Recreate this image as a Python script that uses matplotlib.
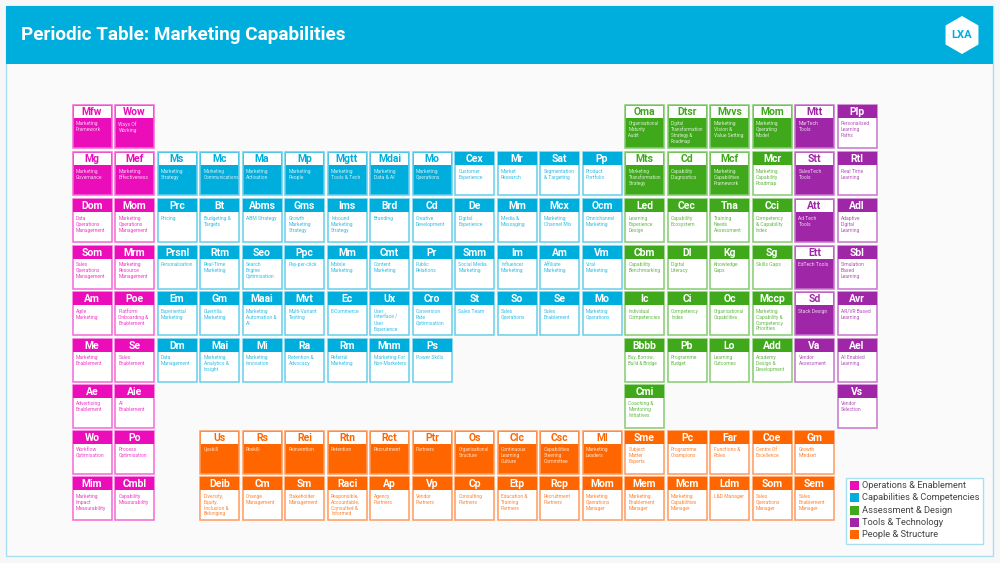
import matplotlib
matplotlib.use("Agg")
import matplotlib.pyplot as plt
from matplotlib.patches import Rectangle, RegularPolygon

plt.rcParams['font.family'] = ['Roboto', 'DejaVu Sans']

# one list per row of the table, "" is an empty slot
symbols = [
    ["Mfw", "Wow", "", "", "", "", "", "", "", "", "", "", "", "Oma", "Dtsr", "Mvvs", "Mom", "Mtt", "Plp"],
    ["Mg", "Mef", "Ms", "Mc", "Ma", "Mp", "Mgtt", "Mdai", "Mo", "Cex", "Mr", "Sat", "Pp", "Mts", "Cd", "Mcf", "Mcr", "Stt", "Rtl"],
    ["Dom", "Mom", "Prc", "Bt", "Abms", "Gms", "Ims", "Brd", "Cd", "De", "Mm", "Mcx", "Ocm", "Led", "Cec", "Tna", "Cci", "Att", "Adl"],
    ["Som", "Mrm", "Prsnl", "Rtm", "Seo", "Ppc", "Mm", "Cmt", "Pr", "Smm", "Im", "Am", "Vm", "Cbm", "Dl", "Kg", "Sg", "Ett", "Sbl"],
    ["Am", "Poe", "Em", "Gm", "Maai", "Mvt", "Ec", "Ux", "Cro", "St", "So", "Se", "Mo", "Ic", "Ci", "Oc", "Mccp", "Sd", "Avr"],
    ["Me", "Se", "Dm", "Mai", "Mi", "Ra", "Rm", "Mnm", "Ps", "", "", "", "", "Bbbb", "Pb", "Lo", "Add", "Va", "Ael"],
    ["Ae", "Aie", "", "", "", "", "", "", "", "", "", "", "", "Cmi", "", "", "", "", "Vs"],
    ["Wo", "Po", "", "Us", "Rs", "Rei", "Rtn", "Rct", "Ptr", "Os", "Clc", "Csc", "Ml", "Sme", "Pc", "Far", "Coe", "Gm", ""],
    ["Mim", "Cmbl", "", "Deib", "Cm", "Sm", "Raci", "Ap", "Vp", "Cp", "Etp", "Rcp", "Mom", "Mem", "Mcm", "Ldm", "Som", "Sem", ""],
]

names = [
    ["Marketing\nFramework", "Ways Of\nWorking", "", "", "", "", "", "", "", "", "", "", "",
     "Organisational\nMaturity\nAudit", "Digital\nTransformation\nStrategy &\nRoadmap", "Marketing\nVision &\nValue Setting",
     "Marketing\nOperating\nModel", "MarTech\nTools", "Personalised\nLearning\nPaths"],
    ["Marketing\nGovernance", "Marketing\nEffectiveness", "Marketing\nStrategy", "Marketing\nCommunications", "Marketing\nActivation",
     "Marketing\nPeople", "Marketing\nTools & Tech", "Marketing\nData & AI", "Marketing\nOperations", "Customer\nExperience",
     "Market\nResearch", "Segmentation\n& Targeting", "Product\nPortfolio", "Marketing\nTransformation\nStrategy",
     "Capability\nDiagnostics", "Marketing\nCapabilities\nFramework", "Marketing\nCapability\nRoadmap", "SalesTech\nTools", "Real Time\nLearning"],
    ["Data\nOperations\nManagement", "Marketing\nOperations\nManagement", "Pricing", "Budgeting &\nTargets", "ABM Strategy",
     "Growth\nMarketing\nStrategy", "Inbound\nMarketing\nStrategy", "Branding", "Creative\nDevelopment", "Digital\nExperience",
     "Media &\nMessaging", "Marketing\nChannel Mix", "Omnichannel\nMarketing", "Learning\nExperience\nDesign",
     "Capability\nEcosystem", "Training\nNeeds\nAssessment", "Competency\n& Capability\nIndex", "Ad Tech\nTools", "Adaptive\nDigital\nLearning"],
    ["Sales\nOperations\nManagement", "Marketing\nResource\nManagement", "Personalisation", "Real-Time\nMarketing", "Search\nEngine\nOptimisation",
     "Pay-per-click", "Mobile\nMarketing", "Content\nMarketing", "Public\nRelations", "Social Media\nMarketing",
     "Influencer\nMarketing", "Affiliate\nMarketing", "Viral\nMarketing", "Capability\nBenchmarking",
     "Digital\nLiteracy", "Knowledge\nGaps", "Skills Gaps", "EdTech Tools", "Simulation\nBased\nLearning"],
    ["Agile\nMarketing", "Platform\nOnboarding &\nEnablement", "Experiential\nMarketing", "Guerrilla\nMarketing", "Marketing\nAutomation &\nAI",
     "Multi-Variant\nTesting", "E-Commerce", "User\nInterface /\nUser\nExperience", "Conversion\nRate\nOptimisation", "Sales Team",
     "Sales\nOperations", "Sales\nEnablement", "Marketing\nOperations", "Individual\nCompetencies",
     "Competency\nIndex", "Organisational\nCapabilities", "Marketing\nCapability &\nCompetency\nPriorities", "Stack Design", "AR/VR Based\nLearning"],
    ["Marketing\nEnablement", "Sales\nEnablement", "Data\nManagement", "Marketing\nAnalytics &\nInsight", "Marketing\nInnovation",
     "Retention &\nAdvocacy", "Referral\nMarketing", "Marketing For\nNon-Marketers", "Power Skills", "", "", "", "",
     "Buy, Borrow,\nBuild & Bridge", "Programme\nBudget", "Learning\nOutcomes", "Academy\nDesign &\nDevelopment",
     "Vendor\nAssessment", "AI Enabled\nLearning"],
    ["Advertising\nEnablement", "AI\nEnablement", "", "", "", "", "", "", "", "", "", "", "",
     "Coaching &\nMentoring\nInitiatives", "", "", "", "", "Vendor\nSelection"],
    ["Workflow\nOptimisation", "Process\nOptimisation", "", "Upskill", "Reskill", "Reinvention", "Retention", "Recruitment", "Partners",
     "Organisational\nStructure", "Continuous\nLearning\nCulture", "Capabilities\nSteering\nCommittee", "Marketing\nLeaders",
     "Subject\nMatter\nExperts", "Programme\nChampions", "Functions &\nRoles", "Centre Of\nExcellence", "Growth\nMindset", ""],
    ["Marketing\nImpact\nMeasurability", "Capability\nMeasurability", "", "Diversity,\nEquity,\nInclusion &\nBelonging", "Change\nManagement",
     "Stakeholder\nManagement", "Responsible,\nAccountable,\nConsulted &\nInformed", "Agency\nPartners", "Vendor\nPartners", "Consulting\nPartners",
     "Education &\nTraining\nPartners", "Recruitment\nPartners", "Marketing\nOperations\nManager", "Marketing\nEnablement\nManager",
     "Marketing\nCapabilities\nManager", "L&D Manager", "Sales\nOperations\nManager", "Sales\nEnablement\nManager", ""],
]

# group of each cell: O ops, C capabilities, A assessment, T tools, P people
groups = [
    "OO...........AAAATT",
    "OOCCCCCCCCCCCAAAATT",
    "OOCCCCCCCCCCCAAAATT",
    "OOCCCCCCCCCCCAAAATT",
    "OOCCCCCCCCCCCAAAATT",
    "OOCCCCCCC....AAAATT",
    "OO...........A....T",
    "OO.PPPPPPPPPPPPPPP.",
    "OO.PPPPPPPPPPPPPPP.",
]

# X = white header with solid body, - = coloured header with white body
styles = [
    "XX...........XXXXX-",
    "XXXXXXXXX----XXX-X-",
    "-----------------X-",
    "-----------------X-",
    "-----------------X-",
    "---------....------",
    "--...........-....-",
    "--.XXXXXXXXXX-----.",
    "--.---------------.",
]

legend_labels = ["Operations & Enablement", "Capabilities & Competencies", "Assessment & Design",
                 "Tools & Technology", "People & Structure"]
legend_keys = ["O", "C", "A", "T", "P"]

colors = {"O": "#EA0DB9", "C": "#00AEDD", "A": "#3FA91B", "T": "#A026A8", "P": "#FF6600"}
edges = {"O": "#F468D6", "C": "#66CEEB", "A": "#85CC70", "T": "#C675CB", "P": "#FF9C5E"}

title = "Periodic Table: Marketing Capabilities"

# row tops are not evenly spaced in the picture
row_tops = [104.5, 152, 199, 245.5, 292, 338.5, 384.5, 430.5, 477]

fig = plt.figure(figsize=(10, 5.63), dpi=100, facecolor="#F7F7F7")
ax = fig.add_axes([0, 0, 1, 1])
ax.set_xlim(0, 1000)
ax.set_ylim(563, 0)
ax.axis("off")

# page panel and banner
ax.add_patch(Rectangle((6, 6), 987, 549.5, fc="#FAFAFA", ec="#A8E0F2", lw=1.0))
ax.add_patch(Rectangle((6, 6), 987, 58, fc="#00AEDD", ec="none"))
ax.text(21, 35.5, title, color="white", fontsize=13.6, fontweight="bold", va="center", ha="left")
ax.add_patch(RegularPolygon((962, 35), 6, radius=19, fc="white", ec="none"))
ax.text(962, 35.5, "LXA", color="#00AEDD", fontsize=8, fontweight="bold", va="center", ha="center")


def draw_cell(row, col, symbol, name, group, solid):
    x = 72.5 + 42.5 * col
    y = row_tops[row]
    w, h = 39, 43
    head = 13
    main = colors[group]
    # long words were squeezed to fit the cell in the reference
    longest = max(len(part) for part in name.split("\n"))
    size = 3.3 if longest >= 14 else 3.6
    ax.add_patch(Rectangle((x, y), w, h, fc=main if solid else "white", ec=edges[group], lw=1.1))
    if solid:
        ax.add_patch(Rectangle((x + 1, y + 1), w - 2, head - 1, fc="white", ec="none"))
        ax.text(x + w / 2, y + 7.2, symbol, color=main, fontsize=7.5, fontweight="bold", ha="center", va="center")
        ax.text(x + 3.5, y + 16.8, name, color="#FFFFFF", alpha=0.8, fontsize=size, va="top", ha="left", linespacing=1.22)
    else:
        ax.add_patch(Rectangle((x, y), w, head, fc=main, ec="none"))
        ax.text(x + w / 2, y + 7.2, symbol, color="white", fontsize=7.5, fontweight="bold", ha="center", va="center")
        ax.text(x + 3.5, y + 16.8, name, color=main, alpha=0.8, fontsize=size, va="top", ha="left", linespacing=1.22)


for r, row_symbols in enumerate(symbols):
    for c, sym in enumerate(row_symbols):
        if sym == "":
            continue
        draw_cell(r, c, sym, names[r][c], groups[r][c], styles[r][c] == "X")

# legend
ax.add_patch(Rectangle((845.5, 477.5), 137, 66, fc="white", ec="#A8E0F2", lw=1.0))
for i, (key, label) in enumerate(zip(legend_keys, legend_labels)):
    y = 481 + 12.3 * i
    ax.add_patch(Rectangle((849.5, y), 9, 9, fc=colors[key], ec="none"))
    ax.text(862, y + 4.6, label, color="#444444", fontsize=6.7, va="center", ha="left")

fig.savefig("out.png", dpi=100, facecolor=fig.get_facecolor())
